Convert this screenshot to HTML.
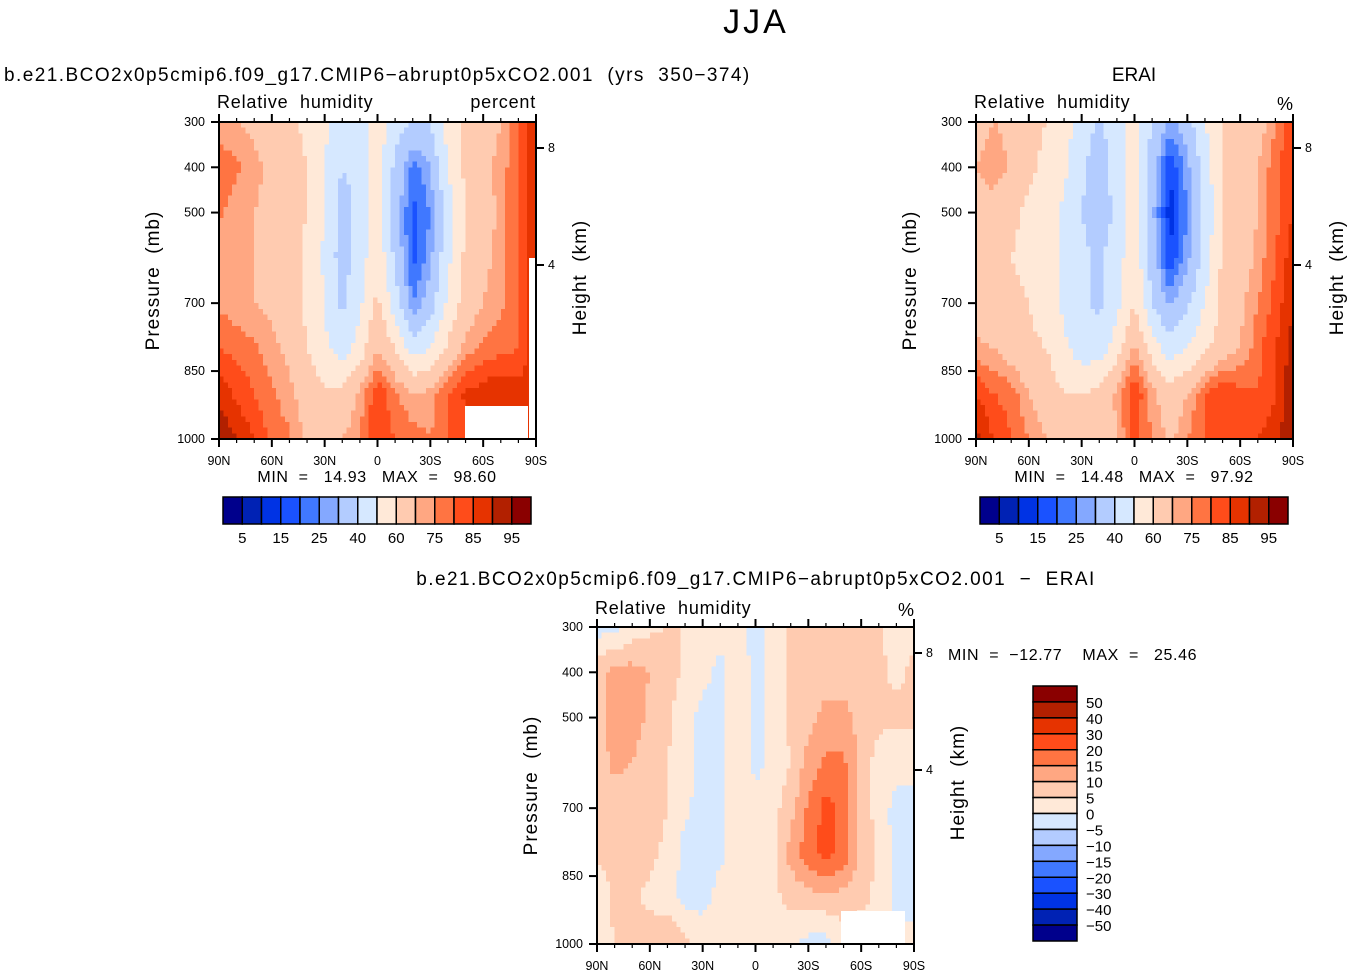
<!DOCTYPE html>
<html><head><meta charset="utf-8"><style>
body{margin:0;background:#fff;}
svg{display:block;font-family:"Liberation Sans",sans-serif;}
text{white-space:pre;}
</style></head><body>
<svg id="s" width="1352" height="976" viewBox="0 0 1352 976">
<defs>
<clipPath id="c1"><rect x="219" y="122" width="317" height="317"/></clipPath>
<clipPath id="c2"><rect x="976" y="122" width="317" height="317"/></clipPath>
<clipPath id="c3"><rect x="597" y="627" width="317" height="317"/></clipPath>
</defs>
<text x="756" y="33" font-size="34" text-anchor="middle" letter-spacing="3">JJA</text>
<text x="4" y="81" font-size="19" letter-spacing="1.45">b.e21.BCO2x0p5cmip6.f09_g17.CMIP6−abrupt0p5xCO2.001  (yrs  350−374)</text>
<text x="217" y="108" font-size="18" letter-spacing="0.8">Relative  humidity</text>
<text x="536" y="108" font-size="18" letter-spacing="0.8" text-anchor="end">percent</text>
<text x="1134" y="81" font-size="19" text-anchor="middle">ERAI</text>
<text x="974" y="108" font-size="18" letter-spacing="0.8">Relative  humidity</text>
<text x="1293" y="110" font-size="18" text-anchor="end">%</text>
<text x="756" y="585" font-size="19" letter-spacing="1.45" text-anchor="middle">b.e21.BCO2x0p5cmip6.f09_g17.CMIP6−abrupt0p5xCO2.001  −  ERAI</text>
<text x="595" y="614" font-size="18" letter-spacing="0.8">Relative  humidity</text>
<text x="914" y="616" font-size="18" text-anchor="end">%</text>
<text x="377" y="482" font-size="16" letter-spacing="0.6" text-anchor="middle">MIN  =   14.93   MAX  =   98.60</text>
<text x="1134" y="482" font-size="16" letter-spacing="0.6" text-anchor="middle">MIN  =   14.48   MAX  =   97.92</text>
<text x="948" y="660" font-size="16" letter-spacing="0.6">MIN  =  −12.77    MAX  =   25.46</text>
</svg>
<script>
const lats=[90,80,70,60,50,40,30,20,10,0,-10,-20,-30,-40,-50,-60,-70,-80,-90];
const levels=[300,400,500,600,700,800,900,1000];
const rhModel=[
[70,70,68,66,62,58,52,45,45,55,45,40,40,55,62,66,70,80,88],
[80,76,72,68,64,60,50,40,42,55,38,22,30,50,62,68,72,80,90],
[76,72,70,68,64,60,50,35,45,55,35,18,25,45,60,66,72,80,90],
[72,70,70,68,64,58,48,35,45,58,38,18,28,48,62,68,72,80,88],
[74,72,70,68,64,58,50,38,48,62,45,25,35,52,65,70,74,80,88],
[80,78,76,72,68,60,52,45,55,70,60,45,50,62,72,76,78,80,88],
[88,84,80,76,72,66,62,62,72,84,76,70,72,80,86,88,90,88,88],
[95,90,85,78,76,68,66,70,75,85,80,78,75,80,82,85,85,85,85]];
const rhERAI=[
[65,70,68,62,60,55,45,38,45,55,40,28,35,50,60,62,65,75,85],
[70,75,68,62,58,52,42,35,45,55,35,15,28,45,60,65,70,78,85],
[65,65,62,58,55,48,40,35,42,55,32,12,25,42,60,65,70,78,85],
[62,62,60,58,55,48,42,38,45,58,35,15,28,45,62,65,72,80,88],
[65,62,62,60,55,48,42,38,48,60,40,28,38,50,62,68,75,82,90],
[72,70,65,62,60,52,45,45,55,72,55,45,50,58,65,70,78,85,92],
[85,80,78,70,65,60,60,62,72,85,72,65,70,80,85,82,80,85,95],
[92,85,80,75,70,65,60,62,70,82,75,68,75,80,85,85,85,88,95]];
const rhDiff=[
[-2,-2,2,4,5,5,4,2,2,-2,2,6,6,6,6,6,6,2,4],
[8,12,12,10,7,4,2,-2,4,-2,2,6,6,7,7,7,6,4,6],
[8,12,12,9,6,2,-2,-2,5,-2,2,6,8,12,12,8,6,6,6],
[8,11,10,8,5,2,-2,-2,6,-2,2,5,12,16,16,8,3,2,2],
[6,8,8,7,5,1,-2,-2,5,2,3,8,16,22,18,8,3,-2,-2],
[6,6,6,6,4,-2,-2,-1,3,2,4,12,18,22,18,8,4,-2,-2],
[2,6,6,4,2,-2,-2,2,2,2,4,6,8,8,8,6,4,-2,-2],
[2,5,8,8,10,6,4,2,2,2,2,2,-2,-2,2,2,2,2,2]];
const rhLevels=[5,10,15,20,25,30,40,50,60,70,75,80,85,90,95];
const diffLevels=[-50,-40,-30,-20,-15,-10,-5,0,5,10,15,20,30,40,50];
const rhLabels=["5","15","25","40","60","75","85","95"];
const diffLabels=["50","40","30","20","15","10","5","0","−5","−10","−15","−20","−30","−40","−50"];
const xTickLabels=["90N","60N","30N","0","30S","60S","90S"];
const xTickLats=[90,60,30,0,-30,-60,-90];
const pTicks=[300,400,500,700,850,1000];
const hTicks=[8,4];
const colors=["#00008c","#0022b4","#0033e4","#1a52ff","#4078ff","#84a8ff","#b3ccff","#d6e8ff","#ffe9d8","#ffcbb0","#ffa782","#ff7442","#ff4c1a","#e63300","#b22000","#8a0000"];
const NS="http://www.w3.org/2000/svg";
const svg=document.getElementById('s');
function mk(t,a,p){const e=document.createElementNS(NS,t);for(const k in a)e.setAttribute(k,a[k]);(p||svg).appendChild(e);return e;}
function bin(v,lv){let i=0;while(i<lv.length&&v>=lv[i])i++;return i;}
function panel(x0,y0,data,lv,clip,id,hY){
  const W=317,H=317,S=4;
  const xs=lat=>x0+(90-lat)/180*W;
  const ys=p=>y0+(p-300)/700*H;
  const g=mk('g',{'clip-path':'url(#'+clip+')','shape-rendering':'crispEdges'});
  
  
  const nc=lats.length,nr=levels.length;
  const sample=(fr,fc)=>{const r0=Math.min(Math.floor(fr),nr-2),c0=Math.min(Math.floor(fc),nc-2);const tr=fr-r0,tc=fc-c0;
    return data[r0][c0]*(1-tr)*(1-tc)+data[r0][c0+1]*(1-tr)*tc+data[r0+1][c0]*tr*(1-tc)+data[r0+1][c0+1]*tr*tc;};
  const NR=(nr-1)*S*2,NC=(nc-1)*S;
  for(let i=0;i<NR;i++){
    const fr0=i/NR*(nr-1),fr1=(i+1)/NR*(nr-1);
    const yt=ys(300+fr0*100),yb=ys(300+fr1*100);
    for(let j=0;j<NC;j++){
      const fc0=j/NC*(nc-1),fc1=(j+1)/NC*(nc-1);
      const v=sample((fr0+fr1)/2,(fc0+fc1)/2);
      const xl=xs(90-fc0*10),xr=xs(90-fc1*10);
      const rc=mk('rect',{x:xl,y:yt,width:xr-xl+0.6,height:yb-yt+0.6,fill:colors[bin(v,lv)]},g);
      
      
    }
  }
  const fr=mk('rect',{x:x0,y:y0,width:W,height:H,fill:'none',stroke:'#000','stroke-width':2});
  
  
  for(let lat=90;lat>=-90;lat-=10){const maj=lat%30==0,L=maj?8:4;const x=xs(lat);
    mk('line',{x1:x,x2:x,y1:y0,y2:y0-L,stroke:'#000','stroke-width':maj?2:1.2});
    mk('line',{x1:x,x2:x,y1:y0+H,y2:y0+H+L,stroke:'#000','stroke-width':maj?2:1.2});}
  xTickLats.forEach((lat,i)=>{const t=mk('text',{x:xs(lat),y:y0+H+26,'font-size':12.5,'text-anchor':'middle'});t.textContent=xTickLabels[i];
    });
  pTicks.forEach(p=>{const y=ys(p);mk('line',{x1:x0,x2:x0-8,y1:y,y2:y,stroke:'#000','stroke-width':2});
    const t=mk('text',{x:x0-14,y:y+4,'font-size':12.5,'text-anchor':'end'});t.textContent=p;
    });
  hTicks.forEach((h,i)=>{const y=hY[i];mk('line',{x1:x0+W,x2:x0+W+8,y1:y,y2:y,stroke:'#000','stroke-width':2});
    const t=mk('text',{x:x0+W+12,y:y+4,'font-size':12.5});t.textContent=h;
    });
  const yt=mk('text',{x:0,y:0,'font-size':19,'letter-spacing':1,'text-anchor':'middle',transform:`translate(${x0-60},${y0+H/2}) rotate(-90)`});
  yt.textContent='Pressure  (mb)';
  
  const ht=mk('text',{x:0,y:0,'font-size':19,'letter-spacing':1,'text-anchor':'middle',transform:`translate(${x0+W+50},${y0+H/2-3}) rotate(-90)`});
  ht.textContent='Height  (km)';
  
}
panel(219,122,rhModel,rhLevels,'c1','panel1',[148,265]);
panel(976,122,rhERAI,rhLevels,'c2','panel2',[148,265]);
panel(597,627,rhDiff,diffLevels,'c3','panel3',[653,770]);
[[465,406,63,32],[529,258,6,180],[841,911,64,32]].forEach(r=>{const m=mk('rect',{x:r[0],y:r[1],width:r[2],height:r[3],fill:'#fff'});
  });
function hbar(x0,id){const y=497,w=308/16;
  for(let i=0;i<16;i++){const r=mk('rect',{x:x0+i*w,y:y,width:w,height:27,fill:colors[i],stroke:'#000','stroke-width':1.5});
    }
  rhLabels.forEach((l,k)=>{const t=mk('text',{x:x0+(2*k+1)*w,y:543,'font-size':15,'text-anchor':'middle'});t.textContent=l;
    });}
hbar(223,'colorbar1');hbar(980,'colorbar2');
(function(){const x0=1033,y0=686,h=255/16;
  for(let i=0;i<16;i++){const r=mk('rect',{x:x0,y:y0+i*h,width:44,height:h,fill:colors[15-i],stroke:'#000','stroke-width':1.5});
    }
  diffLabels.forEach((l,k)=>{const t=mk('text',{x:1086,y:y0+(k+1)*h+6,'font-size':15});t.textContent=l;
    });})();
</script>
</body></html>
